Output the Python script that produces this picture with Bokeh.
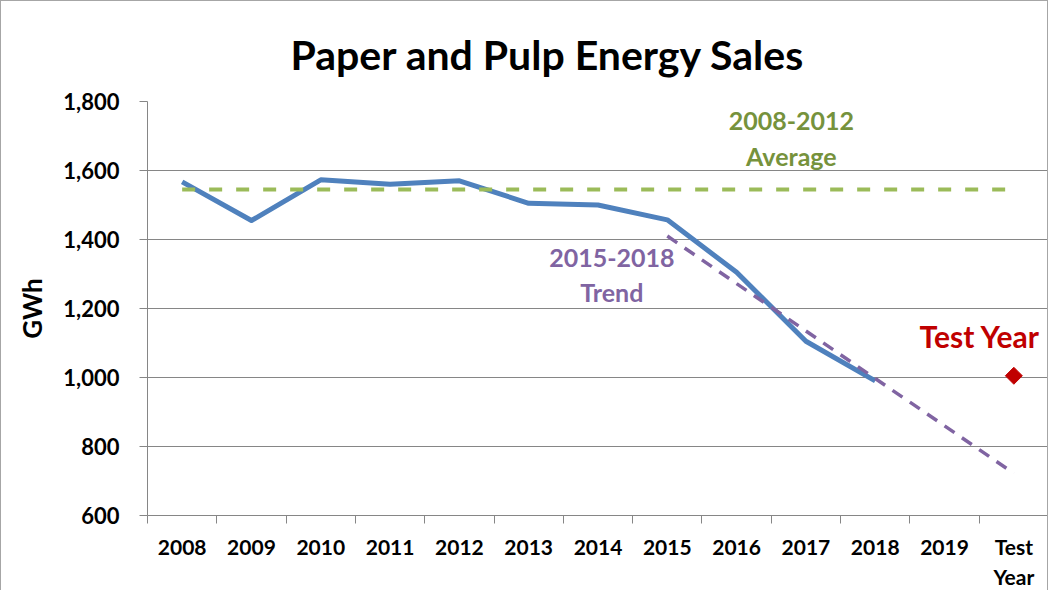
from bokeh.plotting import figure
from bokeh.models import Range1d, FixedTicker, NumeralTickFormatter, Label
from bokeh.embed import file_html
from bokeh.resources import INLINE

# ---- data ----
categories = ["2008", "2009", "2010", "2011", "2012", "2013", "2014",
              "2015", "2016", "2017", "2018", "2019", "Test\nYear"]
sales_years = ["2008", "2009", "2010", "2011", "2012", "2013", "2014",
               "2015", "2016", "2017", "2018"]
sales = [1567, 1455, 1573, 1560, 1570, 1505, 1500, 1457, 1305, 1105, 990]
average_years = categories
average = [1545, 1545, 1545, 1545, 1545, 1545, 1545,
           1545, 1545, 1545, 1545, 1545, 1545]
trend_years = ["2015", "2016", "2017", "2018", "2019", "Test\nYear"]
trend = [1410, 1272, 1135, 997, 860, 722]
test_years = ["Test\nYear"]
test_value = [1005]
y_ticks = [600, 800, 1000, 1200, 1400, 1600, 1800]


def pos(labels):
    return [categories.index(c) for c in labels]


FONT = "Lato"
GRID = "#868686"

p = figure(width=1048, height=590,
           x_range=Range1d(-0.5, len(categories) - 0.5),
           y_range=Range1d(600, 1800),
           output_backend="svg", toolbar_location=None,
           min_border_left=146, min_border_right=1,
           min_border_top=100, min_border_bottom=71)
p.styles = {"border-left": "1px solid #a6a6a6",
            "border-top": "1px solid #a6a6a6",
            "border-right": "1px solid #a6a6a6"}
p.outline_line_color = None

p.title.text = "Paper and Pulp Energy Sales"
p.title.text_font = FONT
p.title.text_font_size = "41px"
p.title.text_font_style = "bold"
p.title.text_color = "black"
p.title.align = "left"
p.title.offset = 143
p.title.standoff = 46

# x axis: labels at category centres, ticks at boundaries
xa = p.xaxis[0]
xa.ticker = FixedTicker(ticks=list(range(len(categories))),
                        minor_ticks=[i - 0.5 for i in range(len(categories) + 1)])
xa.major_label_overrides = {i: c for i, c in enumerate(categories)}
xa.major_tick_line_color = None
xa.major_tick_out = 0
xa.minor_tick_line_color = GRID
xa.minor_tick_out = 8
xa.minor_tick_in = 0
xa.axis_line_color = GRID
xa.major_label_text_font = FONT
xa.major_label_text_font_style = "bold"
xa.major_label_text_font_size = "21px"
xa.major_label_text_color = "black"
xa.major_label_standoff = 10
p.xgrid.visible = False

ya = p.yaxis[0]
ya.ticker = FixedTicker(ticks=y_ticks)
ya.formatter = NumeralTickFormatter(format="0,0")
ya.major_tick_out = 8
ya.major_tick_in = 0
ya.major_tick_line_color = GRID
ya.minor_tick_line_color = None
ya.axis_line_color = GRID
ya.major_label_text_font = FONT
ya.major_label_text_font_style = "bold"
ya.major_label_text_font_size = "22px"
ya.major_label_text_color = "black"
ya.major_label_standoff = 20
ya.axis_label = "GWh"
ya.axis_label_text_font = FONT
ya.axis_label_text_font_style = "bold"
ya.axis_label_text_font_size = "26px"
ya.axis_label_text_color = "black"
ya.axis_label_standoff = 12
p.ygrid.grid_line_color = GRID
p.ygrid.grid_line_width = 1

# series
p.line(pos(sales_years), sales, line_color="#4F81BD", line_width=5,
       line_join="round")
p.line(pos(average_years), average, line_color="#9BBB59", line_width=4,
       line_dash="13 14")
p.line(pos(trend_years), trend, line_color="#8064A2", line_width=3.5,
       line_dash="12 9")
p.scatter(pos(test_years), test_value, marker="square", angle=0.785398,
          size=12, fill_color="#C00000", line_color="#C00000")

# annotations
def lab(x, y, text, color, size):
    p.add_layout(Label(x=x, y=y, text=text, text_color=color,
                       text_font=FONT, text_font_style="bold",
                       text_font_size=size, text_align="center",
                       text_baseline="middle"))

lab(8.79, 1743, "2008-2012", "#76923C", "25px")
lab(8.79, 1642, "Average", "#76923C", "25px")
lab(6.20, 1347, "2015-2018", "#8064A2", "25px")
lab(6.20, 1247, "Trend", "#8064A2", "25px")
lab(11.51, 1121, "Test Year", "#C00000", "30px")

open("out.html", "w").write(file_html(p, INLINE))
